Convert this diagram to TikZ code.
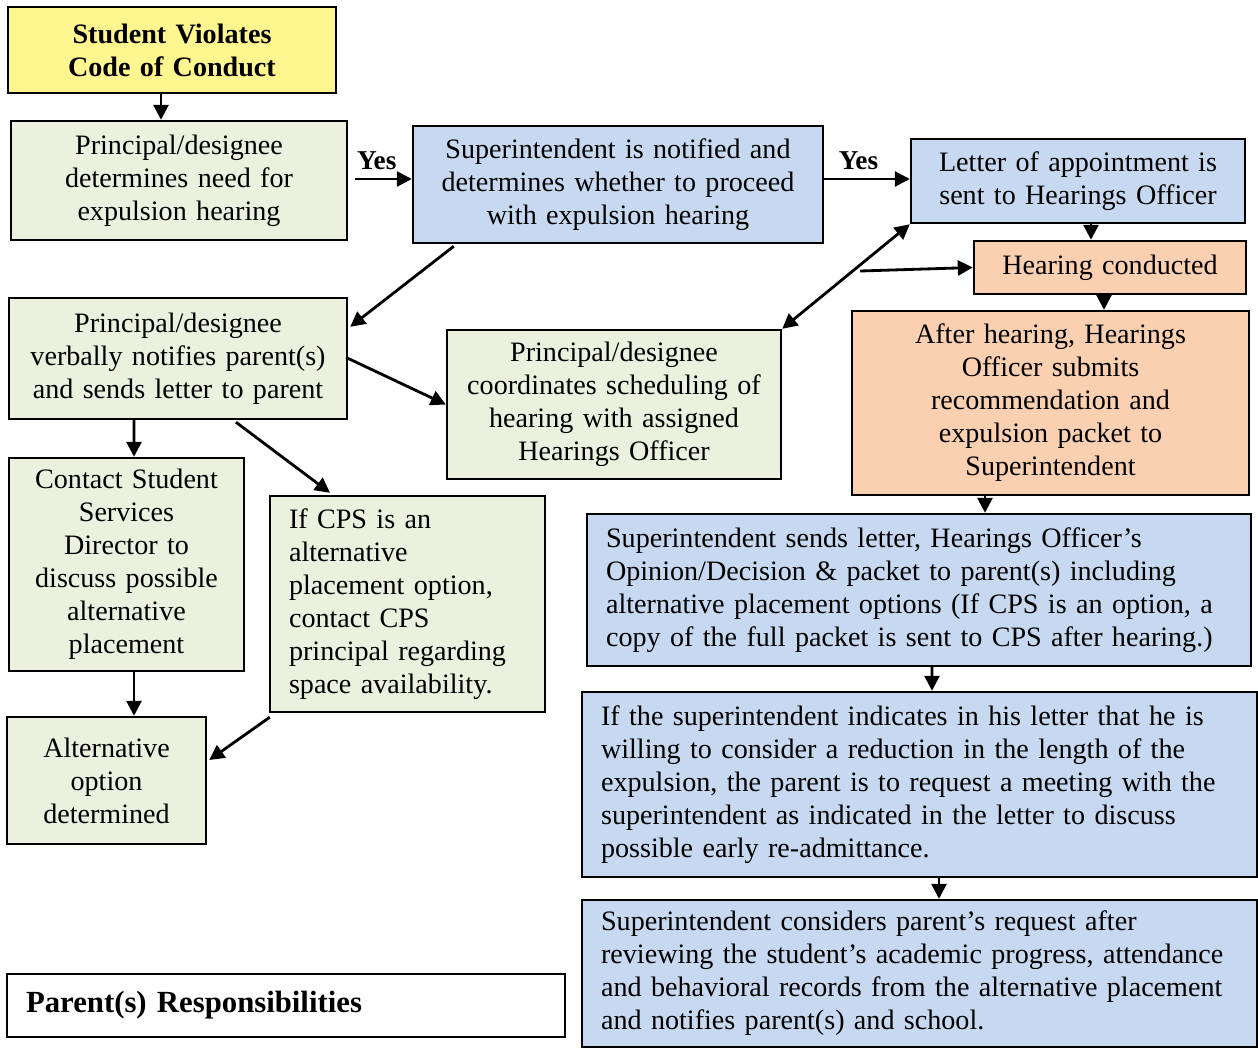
\documentclass[tikz,border=0pt]{standalone}
\usepackage{fontspec}
\setmainfont{Liberation Serif}
\usetikzlibrary{arrows.meta,calc}

\definecolor{yelfill}{HTML}{FFF68F}
\definecolor{grnfill}{HTML}{EBF1DE}
\definecolor{blufill}{HTML}{C6D9F1}
\definecolor{orgfill}{HTML}{FAD0B0}

\newcommand{\boxfont}{\fontsize{16}{18.8}\selectfont}

\begin{document}
\begin{tikzpicture}[x=0.02cm, y=-0.02cm,
	box/.style={draw, line width=1.4pt, inner xsep=0.38cm, inner ysep=0pt, font=\boxfont},
	cbox/.style={box, align=center},
	lbox/.style={box, align=left},
	arr/.style={line width=1.6pt, -{Triangle[length=0.3cm, width=0.3cm]}},
	yeslbl/.style={font=\fontsize{15.5}{17}\selectfont\bfseries}]

\useasboundingbox (0, 0) rectangle (1258, 1049);

% first column
\node[cbox, fill=yelfill, minimum width=6.56cm, minimum height=1.72cm, text width=5.8cm]
	(violates) at (172, 50) {\bfseries Student Violates\\Code of Conduct};
\node[cbox, fill=grnfill, minimum width=6.72cm, minimum height=2.38cm, text width=5.96cm]
	(need) at (179, 180.5) {Principal/designee\\determines need for\\expulsion hearing};
\node[cbox, fill=grnfill, minimum width=6.76cm, minimum height=2.42cm, text width=6cm]
	(notify) at (178, 358.5) {Principal/designee\\verbally notifies parent(s)\\and sends letter to parent};
\node[cbox, fill=grnfill, minimum width=4.7cm, minimum height=4.26cm, text width=3.94cm]
	(contact) at (126.5, 564.5) {Contact Student\\Services\\Director to\\discuss possible\\alternative\\placement};
\node[lbox, fill=grnfill, minimum width=5.5cm, minimum height=4.32cm, text width=4.74cm]
	(cps) at (407.5, 604) {If CPS is an\\alternative\\placement option,\\contact CPS\\principal regarding\\space availability.};
\node[cbox, fill=grnfill, minimum width=3.98cm, minimum height=2.54cm, text width=3.22cm]
	(altopt) at (106.5, 780.5) {Alternative\\option\\determined};
\node[lbox, minimum width=11.16cm, minimum height=1.26cm, text width=10.4cm,
	font=\fontsize{17.5}{20}\selectfont\bfseries]
	(parents) at (286, 1005.5) {Parent(s) Responsibilities};

% middle
\node[cbox, fill=blufill, minimum width=8.2cm, minimum height=2.34cm, text width=7.44cm]
	(notified) at (618, 184.5) {Superintendent is notified and\\determines whether to proceed\\with expulsion hearing};
\node[cbox, fill=grnfill, minimum width=6.68cm, minimum height=2.98cm, text width=5.92cm]
	(coordinate) at (614, 404.5) {Principal/designee\\coordinates scheduling of\\hearing with assigned\\Hearings Officer};

% right column
\node[cbox, fill=blufill, minimum width=6.68cm, minimum height=1.68cm, text width=5.92cm]
	(appoint) at (1078, 181) {Letter of appointment is\\sent to Hearings Officer};
\node[cbox, fill=orgfill, minimum width=5.44cm, minimum height=1.06cm, text width=4.68cm]
	(conducted) at (1110, 267.5) {Hearing conducted};
\node[cbox, fill=orgfill, minimum width=7.94cm, minimum height=3.68cm, text width=7.18cm]
	(submits) at (1050.5, 403) {After hearing, Hearings\\Officer submits\\recommendation and\\expulsion packet to\\Superintendent};
\node[lbox, fill=blufill, minimum width=13.28cm, minimum height=3.04cm, text width=12.52cm]
	(sends) at (919, 590) {Superintendent sends letter, Hearings Officer’s\\Opinion/Decision \& packet to parent(s) including\\alternative placement options (If CPS is an option, a\\copy of the full packet is sent to CPS after hearing.)};
\node[lbox, fill=blufill, minimum width=13.5cm, minimum height=3.7cm, text width=12.74cm]
	(reduction) at (919.5, 784.5) {If the superintendent indicates in his letter that he is\\willing to consider a reduction in the length of the\\expulsion, the parent is to request a meeting with the\\superintendent as indicated in the letter to discuss\\possible early re-admittance.};
\node[lbox, fill=blufill, minimum width=13.5cm, minimum height=2.94cm, text width=12.74cm]
	(considers) at (919.5, 973.5) {Superintendent considers parent’s request after\\reviewing the student’s academic progress, attendance\\and behavioral records from the alternative placement\\and notifies parent(s) and school.};

\coordinate (hearstart) at (860, 271);

% arrows
\draw[arr] ($(violates.south)+(-11, 0)$) -- ($(need.north)+(-18, 0)$);
\draw[arr] ($(need.east)+(7, -1.5)$) -- node[yeslbl, pos=0.38, above=1pt] {Yes} ($(notified.west)+(0, -5.5)$);
\draw[arr] ($(notified.east)+(0, -5.5)$) -- node[yeslbl, pos=0.4, above=1pt] {Yes} ($(appoint.west)+(0, -2)$);
\draw[arr] ($(notified.south west)+(42, 2)$) -- ($(notify.north east)+(2, 30)$);
\draw[arr] ($(notify.east)+(-2, -1)$) -- (coordinate.west);
\draw[arr, {Triangle[length=0.3cm, width=0.3cm]}-{Triangle[length=0.3cm, width=0.3cm]}]
	(coordinate.north east) -- (appoint.south west);
\draw[arr] (hearstart) -- (conducted.west);
\draw[arr] ($(appoint.south)+(13, 0)$) -- ($(conducted.north)+(-19, 0)$);
\draw[arr] ($(conducted.south)+(-6, 0)$) -- ($(submits.north)+(53.5, 0)$);
\draw[arr] ($(submits.south)+(-65.5, 0)$) -- ($(sends.north)+(66, 0)$);
\draw[arr] ($(sends.south)+(13, 0)$) -- ($(reduction.north)+(12.5, 0)$);
\draw[arr] ($(reduction.south)+(19.5, 0)$) -- ($(considers.north)+(19.5, 0)$);
\draw[arr] ($(notify.south)+(-44, 0)$) -- ($(contact.north)+(7.5, 0)$);
\draw[arr] ($(notify.south)+(58, 2)$) -- ($(cps.north)+(-77.5, -2)$);
\draw[arr] ($(contact.south)+(7.5, 0)$) -- ($(altopt.north)+(27.5, 0)$);
\draw[arr] ($(cps.south west)+(1, 4)$) -- ($(altopt.east)+(2, -20.5)$);

\end{tikzpicture}
\end{document}
